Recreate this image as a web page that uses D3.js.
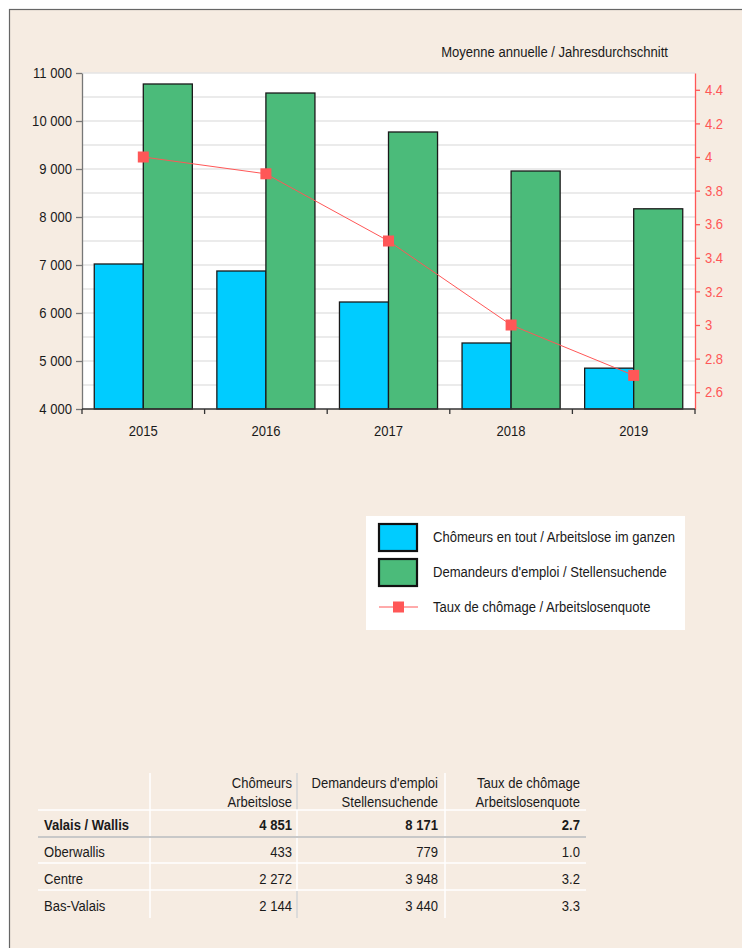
<!DOCTYPE html>
<html>
<head>
<meta charset="utf-8">
<script src="https://cdn.jsdelivr.net/npm/d3@7"></script>
<style>
  body { margin: 0; background: #fff; }
  svg text { font-family: "Liberation Sans", Arial, sans-serif; }
</style>
</head>
<body>
<svg id="chart" width="742" height="948"></svg>
<script>
const w = 742;
const h = 948;

// chart data (annual averages)
const years = ['2015', '2016', '2017', '2018', '2019'];
const chomeurs = [7021, 6875, 6229, 5375, 4851];
const demandeurs = [10771, 10583, 9771, 8958, 8171];
const taux = [4.0, 3.9, 3.5, 3.0, 2.7];
const leftTicks = [4000, 5000, 6000, 7000, 8000, 9000, 10000, 11000];
const gridValues = d3.range(4000, 11001, 500);
const rightTicks = [2.6, 2.8, 3.0, 3.2, 3.4, 3.6, 3.8, 4.0, 4.2, 4.4];

const seriesNames = [
  'Chômeurs en tout / Arbeitslose im ganzen',
  "Demandeurs d'emploi / Stellensuchende",
  'Taux de chômage / Arbeitslosenquote'
];

// table data
const regions = ['Valais / Wallis', 'Oberwallis', 'Centre', 'Bas-Valais'];
const tabChomeurs = [4851, 433, 2272, 2144];
const tabDemandeurs = [8171, 779, 3948, 3440];
const tabTaux = [2.7, 1.0, 3.2, 3.3];
const tabHeaders = [
  ['Chômeurs', 'Arbeitslose'],
  ["Demandeurs d'emploi", 'Stellensuchende'],
  ['Taux de chômage', 'Arbeitslosenquote']
];

const blue = '#00ccff';
const green = '#4bbb7a';
const red = '#ff5757';
const ink = '#1a1a1a';
const FS = 14.5;   // font size
const SX = 0.9;    // the original font is a bit narrow

const loc = d3.formatLocale({ decimal: '.', thousands: ' ', grouping: [3], currency: ['', ''] });
const fmtInt = loc.format(',d');
const fmtRate = d3.format('.1f');

// squeeze text horizontally around its anchor
function sq(sel, color) {
  sel.each(function () {
    const t = d3.select(this);
    t.attr('x', (+t.attr('x') || 0) / SX)
      .attr('transform', `scale(${SX},1)`)
      .attr('font-size', FS)
      .attr('fill', color || ink);
  });
}

const svg = d3.select('#chart');

// beige frame
svg.append('rect')
  .attr('x', 9.5).attr('y', 9.5)
  .attr('width', w).attr('height', h)
  .attr('fill', '#f6ece2')
  .attr('stroke', '#666').attr('stroke-width', 1.2);

const plot = { left: 82, right: 695, top: 73, bottom: 409 };

const x = d3.scaleBand().domain(years).range([plot.left, plot.right]).paddingInner(0).paddingOuter(0);
const yL = d3.scaleLinear().domain([4000, 11000]).range([plot.bottom, plot.top]);
const yR = d3.scaleLinear().domain([2.5, 4.5]).range([plot.bottom, plot.top]);

// plot background
svg.append('rect')
  .attr('x', plot.left).attr('y', plot.top)
  .attr('width', plot.right - plot.left).attr('height', plot.bottom - plot.top)
  .attr('fill', '#fff');

// grid lines every 500
svg.append('g')
  .selectAll('line')
  .data(gridValues.slice(1))
  .enter()
  .append('line')
  .attr('x1', plot.left).attr('x2', plot.right)
  .attr('y1', d => yL(d)).attr('y2', d => yL(d))
  .attr('stroke', '#e4e4e4').attr('stroke-width', 1.5);

svg.append('text')
  .attr('x', 668).attr('y', 57)
  .attr('text-anchor', 'end')
  .text('Moyenne annuelle / Jahresdurchschnitt')
  .call(sq);

// bars
const barW = x.bandwidth() * 0.4;
const offset = x.bandwidth() * 0.1;

svg.append('g')
  .selectAll('rect')
  .data(years)
  .enter()
  .append('rect')
  .attr('x', d => x(d) + offset)
  .attr('y', (d, i) => yL(chomeurs[i]))
  .attr('width', barW)
  .attr('height', (d, i) => yL(4000) - yL(chomeurs[i]))
  .attr('fill', blue)
  .attr('stroke', ink).attr('stroke-width', 1.3);

svg.append('g')
  .selectAll('rect')
  .data(years)
  .enter()
  .append('rect')
  .attr('x', d => x(d) + offset + barW)
  .attr('y', (d, i) => yL(demandeurs[i]))
  .attr('width', barW)
  .attr('height', (d, i) => yL(4000) - yL(demandeurs[i]))
  .attr('fill', green)
  .attr('stroke', ink).attr('stroke-width', 1.3);

// unemployment rate line
const line = d3.line()
  .x((d, i) => x(years[i]) + x.bandwidth() / 2)
  .y(d => yR(d));

svg.append('path')
  .datum(taux)
  .attr('d', line)
  .attr('fill', 'none')
  .attr('stroke', red).attr('stroke-width', 1);

svg.append('g')
  .selectAll('rect')
  .data(taux)
  .enter()
  .append('rect')
  .attr('x', (d, i) => x(years[i]) + x.bandwidth() / 2 - 5.5)
  .attr('y', d => yR(d) - 5.5)
  .attr('width', 11).attr('height', 11)
  .attr('fill', red);

// left axis
const gL = svg.append('g')
  .attr('transform', `translate(${plot.left},0)`)
  .call(d3.axisLeft(yL).tickValues(leftTicks).tickSize(6).tickSizeOuter(0).tickFormat(fmtInt));
gL.select('.domain').attr('stroke', '#777').attr('stroke-width', 1.3);
gL.selectAll('.tick line').attr('stroke', '#777').attr('stroke-width', 1.3);
gL.selectAll('.tick text').attr('x', -10).call(sq);

// right axis
const gR = svg.append('g')
  .attr('transform', `translate(${plot.right},0)`)
  .call(d3.axisRight(yR).tickValues(rightTicks).tickSize(5).tickSizeOuter(0).tickFormat(d => d3.format('~g')(+d.toFixed(1))));
gR.select('.domain').attr('stroke', red).attr('stroke-width', 1.3);
gR.selectAll('.tick line').attr('stroke', red).attr('stroke-width', 1.3);
gR.selectAll('.tick text').attr('x', 10).call(sq, red);

// bottom axis: ticks at band boundaries
const gB = svg.append('g')
  .attr('transform', `translate(0,${plot.bottom})`);
gB.append('line')
  .attr('x1', plot.left).attr('x2', plot.right)
  .attr('stroke', '#333').attr('stroke-width', 1.3);
gB.selectAll('.bt')
  .data(years.concat(['end']))
  .enter()
  .append('line')
  .attr('class', 'bt')
  .attr('x1', d => d === 'end' ? plot.right : x(d))
  .attr('x2', d => d === 'end' ? plot.right : x(d))
  .attr('y1', 0).attr('y2', 5)
  .attr('stroke', '#333').attr('stroke-width', 1.3);
gB.selectAll('text')
  .data(years)
  .enter()
  .append('text')
  .attr('x', d => x(d) + x.bandwidth() / 2)
  .attr('y', 27)
  .attr('text-anchor', 'middle')
  .text(d => d)
  .call(sq);

// legend
const lg = svg.append('g');
lg.append('rect')
  .attr('x', 366).attr('y', 516).attr('width', 319).attr('height', 114)
  .attr('fill', '#fff');
const legendY = [537, 572, 607];
[blue, green].forEach((c, i) => {
  lg.append('rect')
    .attr('x', 379).attr('y', legendY[i] - 13)
    .attr('width', 38).attr('height', 27)
    .attr('fill', c)
    .attr('stroke', '#111').attr('stroke-width', 2.2);
});
lg.append('line')
  .attr('x1', 379).attr('x2', 418)
  .attr('y1', legendY[2]).attr('y2', legendY[2])
  .attr('stroke', red).attr('stroke-width', 1);
lg.append('rect')
  .attr('x', 393).attr('y', legendY[2] - 5.5)
  .attr('width', 11).attr('height', 11)
  .attr('fill', red);
lg.selectAll('text')
  .data(seriesNames)
  .enter()
  .append('text')
  .attr('x', 433)
  .attr('y', (d, i) => legendY[i] + 5)
  .text(d => d)
  .call(sq);

// table
const tb = svg.append('g');
const colRight = [292, 438, 580];
const rowY = [830, 857, 884, 911];

// separators
tb.append('line').attr('x1', 150).attr('x2', 150).attr('y1', 773).attr('y2', 918)
  .attr('stroke', '#fff').attr('stroke-width', 1.5);
tb.append('line').attr('x1', 445).attr('x2', 445).attr('y1', 773).attr('y2', 918)
  .attr('stroke', '#fff').attr('stroke-width', 1.5);
tb.append('line').attr('x1', 297).attr('x2', 297).attr('y1', 773).attr('y2', 918)
  .attr('stroke', '#fff').attr('stroke-width', 1.5);
tb.append('line').attr('x1', 297).attr('x2', 297).attr('y1', 773).attr('y2', 810)
  .attr('stroke', '#d0d0d0').attr('stroke-width', 1.5);
tb.append('line').attr('x1', 297).attr('x2', 297).attr('y1', 891).attr('y2', 918)
  .attr('stroke', '#d0d0d0').attr('stroke-width', 1.5);

[[810, '#fff', 1.5], [837, '#c8c8c8', 2], [863, '#fff', 1.5], [890, '#fff', 1.5]].forEach(l => {
  tb.append('line')
    .attr('x1', 38).attr('x2', 586)
    .attr('y1', l[0]).attr('y2', l[0])
    .attr('stroke', l[1]).attr('stroke-width', l[2]);
});

tabHeaders.forEach((hd, i) => {
  hd.forEach((t, j) => {
    tb.append('text')
      .attr('x', colRight[i]).attr('y', 788 + j * 19)
      .attr('text-anchor', 'end')
      .text(t)
      .call(sq);
  });
});

regions.forEach((r, i) => {
  const bold = i === 0 ? 'bold' : 'normal';
  tb.append('text').attr('x', 44).attr('y', rowY[i])
    .attr('font-weight', bold).text(r).call(sq);
  [fmtInt(tabChomeurs[i]), fmtInt(tabDemandeurs[i]), fmtRate(tabTaux[i])].forEach((v, k) => {
    tb.append('text').attr('x', colRight[k]).attr('y', rowY[i])
      .attr('text-anchor', 'end')
      .attr('font-weight', bold).text(v).call(sq);
  });
});
</script>
</body>
</html>
